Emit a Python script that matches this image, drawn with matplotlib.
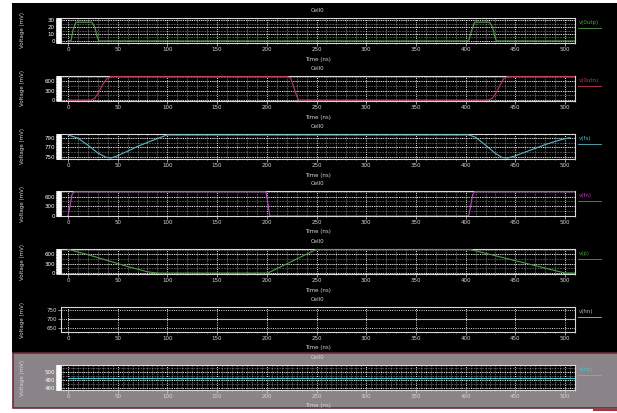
import numpy as np
import matplotlib
matplotlib.use('Agg')
import matplotlib.pyplot as plt
from matplotlib.patches import Rectangle
from matplotlib.ticker import MultipleLocator, AutoMinorLocator

# ---- waveform data (time in ns, voltage in mV) ----
t_outp = [0, 3, 5, 8, 24, 27, 29, 31, 401, 403, 406, 409, 424, 427, 429, 431, 510]
v_outp = [0, 0, 15, 27, 27, 20, 8, 0, 0, 0, 15, 27, 27, 20, 8, 0, 0]

t_outn = [0, 23, 27, 31, 35, 39, 43, 221, 224, 227, 230, 232, 423, 427, 431, 435, 438, 442, 510]
v_outn = [0, 0, 60, 250, 500, 680, 750, 750, 700, 430, 130, 0, 0, 60, 250, 500, 680, 750, 750]

t_fs = [0, 10, 20, 30, 38, 43, 50, 60, 70, 80, 90, 97, 100, 403, 410, 420, 430, 437, 442,
        450, 460, 470, 480, 490, 500, 505]
v_fs = [797, 790, 775, 758, 749, 747, 752, 762, 772, 781, 789, 795, 797, 797, 792, 775, 757,
        748, 747, 752, 760, 768, 776, 783, 789, 791]

t_fn = [0, 2, 4, 6, 199, 201, 203, 403, 405, 407, 409, 510]
v_fn = [0, 300, 650, 750, 750, 400, 0, 0, 300, 650, 750, 750]

t_p = [0, 20, 40, 60, 80, 90, 201, 250, 404, 500, 510]
v_p = [760, 590, 400, 210, 40, 0, 0, 760, 760, 0, 0]

t_hn = [0, 510]
v_hn = [700, 700]

t_hp = [0, 510]
v_hp = [485, 485]

names = ['v(0utp)', 'v(0utn)', 'v(fs)', 'v(fn)', 'v(p)', 'v(hn)', 'v(hp)']
colors = ['#55a04c', '#c23658', '#5ab8c6', '#bd46c4', '#4f9c45', '#b8b8b8', '#3ecbd4']
yticks = [[0, 10, 20, 30], [0, 300, 600], [750, 770, 790], [0, 300, 600],
          [0, 300, 600], [650, 700, 750], [460, 480, 500]]
ylims = [(-3, 33), (-30, 770), (745, 799), (0, 770), (-30, 770), (628, 768), (455, 517)]
series = [(t_outp, v_outp), (t_outn, v_outn), (t_fs, v_fs), (t_fn, v_fn),
          (t_p, v_p), (t_hn, v_hn), (t_hp, v_hp)]

W, H = 617, 413
fig = plt.figure(figsize=(W / 100, H / 100), dpi=100, facecolor='white')

def px(x, y, w, h):
    # pixel box (top-left origin) -> figure fraction
    return [x / W, 1 - (y + h) / H, w / W, h / H]

# dark canvas and the highlighted bottom strip
fig.patches.append(Rectangle((12 / W, 1 - 353 / H), 1, 350 / H, transform=fig.transFigure,
                             facecolor='black', edgecolor='none', zorder=-5))
fig.patches.append(Rectangle((13 / W, 1 - 408 / H), 1, 55 / H, transform=fig.transFigure,
                             facecolor='#8a8387', edgecolor='#6e2a38', lw=1.2, zorder=-5))
fig.patches.append(Rectangle((593 / W, 1 - 411 / H), 30 / W, 2 / H, transform=fig.transFigure,
                             facecolor='#b03040', edgecolor='none', zorder=-5))

tops = [18, 76, 134, 191, 249, 307, 365]
fc = '#d8d8d8'
fs = 4

for i, top in enumerate(tops):
    ax = fig.add_axes(px(61, top, 514, 25))
    ax.set_facecolor('black')
    t, v = series[i]
    ax.plot(t, v, color=colors[i], lw=0.8, zorder=3)
    ax.set_xlim(-7, 510)
    ax.set_ylim(*ylims[i])
    ax.set_yticks(yticks[i])
    ax.xaxis.set_major_locator(MultipleLocator(50))
    for s in ax.spines.values():
        s.set_color(fc)
        s.set_linewidth(0.8)
    if i == 3:
        # low level of v(fn) sits on the frame
        ax.spines['bottom'].set_zorder(4)
    ax.tick_params(axis='both', which='major', colors=fc, labelsize=fs, length=2, width=0.5, pad=1)
    ax.tick_params(axis='x', which='minor', colors=fc, length=1, width=0.4)

    ax.grid(which='major', axis='both', color='white', lw=0.6, ls=(0, (1.2, 1.5)))
    if i != 5:
        # dense minor grid and heavy left tick strip
        ax.xaxis.set_minor_locator(MultipleLocator(5 if i == 6 else 10))
        ax.grid(which='minor', axis='x', color='#c8c8c8', lw=0.45, ls=(0, (1, 1.5)))
        ax.yaxis.set_minor_locator(AutoMinorLocator(25))
        ax.tick_params(axis='y', which='minor', colors='white', length=3.5, width=0.6)
        ax.tick_params(axis='y', which='major', length=3.5, width=0.8, colors='white')
        yt = yticks[i]
        step = (yt[1] - yt[0]) / 2
        for yv in np.arange(yt[0] - step, ylims[i][1], step):
            ax.axhline(yv, color='#d0d0d0', lw=0.45, ls=(0, (1, 1.5)), zorder=1)
    else:
        ax.xaxis.set_minor_locator(MultipleLocator(10))

    ax.set_ylabel('Voltage (mV)', color=fc, fontsize=fs)
    ax.yaxis.set_label_coords(-0.07, 0.5)
    ax.text(0.5, -0.64, 'Time (ns)', transform=ax.transAxes, ha='center', va='center',
            color=fc, fontsize=fs)
    ax.set_title('Cell0', color=fc, fontsize=fs, pad=4)

    # trace name with underline at the right edge
    ax.text(1.007, 0.82, names[i], transform=ax.transAxes, ha='left', va='center',
            color=colors[i], fontsize=fs)
    ax.plot([1.005, 1.05], [0.6, 0.6], transform=ax.transAxes, color=colors[i],
            lw=0.6, clip_on=False)

fig.savefig('out.png', dpi=100, facecolor=fig.get_facecolor())
